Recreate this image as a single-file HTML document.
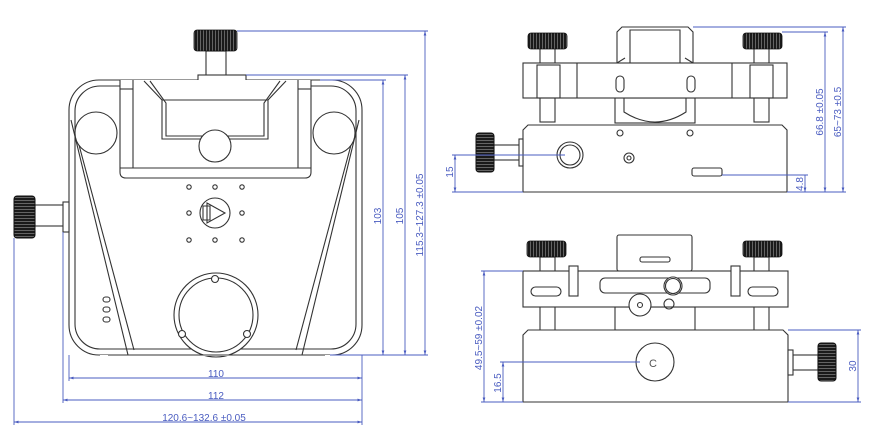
<!DOCTYPE html>
<html><head><meta charset="utf-8"><style>
html,body{margin:0;padding:0;background:#fff;}
svg{display:block;}
.l{fill:none;stroke:#333;stroke-width:1.1;}
.w{fill:#fff;stroke:#333;stroke-width:1.1;}
.d{stroke:#4a5cc0;stroke-width:0.9;fill:none;}
.t{fill:#4a5cc0;font-family:"Liberation Sans",sans-serif;font-size:10px;}
.k{fill:url(#knurl);stroke:#111;stroke-width:0.8;}
</style></head><body>
<svg width="870" height="445" viewBox="0 0 870 445" xmlns="http://www.w3.org/2000/svg">
<defs>
<pattern id="knurl" width="3" height="3" patternUnits="userSpaceOnUse"><rect width="3" height="3" fill="#1a1a1a"/><rect x="2" width="0.8" height="3" fill="#777"/></pattern>
<pattern id="knurlh" width="3" height="3" patternUnits="userSpaceOnUse"><rect width="3" height="3" fill="#1a1a1a"/><rect y="2" width="3" height="0.8" fill="#777"/></pattern>
<marker id="a" viewBox="0 0 10 10" refX="10" refY="5" markerWidth="6" markerHeight="5" orient="auto-start-reverse"><path d="M0,2 L10,5 L0,8z" fill="#4a5cc0"/></marker>
</defs>

<!-- ============ FRONT VIEW ============ -->
<rect x="206" y="51" width="20" height="25" class="w"/>
<rect x="194" y="30" width="43" height="21" rx="3" class="k"/>
<rect x="69" y="80" width="293" height="275" rx="30" class="w"/>
<rect x="75" y="86" width="281" height="263" rx="25" class="l"/>
<rect x="198" y="75" width="48" height="18" class="w"/>
<rect x="183" y="83" width="21" height="5" fill="#111"/>
<!-- inner frame -->
<path d="M120 80 V172 Q120 178 126 178 H305 Q311 178 311 172 V80" class="w"/>
<line x1="133" y1="80" x2="133" y2="168" class="l"/><line x1="298" y1="80" x2="298" y2="168" class="l"/>
<line x1="120" y1="168" x2="311" y2="168" class="l"/>
<line x1="120" y1="89" x2="133" y2="89" class="l"/><line x1="298" y1="89" x2="311" y2="89" class="l"/>
<path d="M144 81 L162 100 V139 H268 V100 L286 81" class="l"/>
<path d="M150 81 L166 103 V136 H264 V103 L280 81" class="l"/>
<line x1="162" y1="100" x2="268" y2="100" class="l"/>
<circle cx="215" cy="146" r="16" class="w"/>
<!-- side rollers -->
<circle cx="96" cy="133" r="21" class="w"/>
<circle cx="334" cy="133" r="21" class="w"/>
<!-- diagonals -->
<path d="M71 120 L128 355 M79 145 L134 350" class="l"/>
<path d="M359 120 L302 355 M351 145 L296 350" class="l"/>
<!-- holes -->
<g class="l"><circle cx="189" cy="187" r="2.2"/><circle cx="215" cy="187" r="2.2"/><circle cx="242" cy="187" r="2.2"/>
<circle cx="189" cy="213" r="2.2"/><circle cx="242" cy="213" r="2.2"/>
<circle cx="189" cy="240" r="2.2"/><circle cx="215" cy="240" r="2.2"/><circle cx="242" cy="240" r="2.2"/></g>
<circle cx="215" cy="213" r="15" class="w"/>
<path d="M207 203 L225 213 L207 223z M203 206 h7 v14 h-7z" class="l"/>
<!-- bottom circle -->
<circle cx="216" cy="315" r="42" class="w"/>
<circle cx="216" cy="315" r="37" class="l"/>
<circle cx="215" cy="279" r="3.5" class="w"/><circle cx="182" cy="334" r="3.5" class="w"/><circle cx="247" cy="334" r="3.5" class="w"/>
<rect x="100" y="355" width="240" height="1" fill="#fff"/>
<line x1="108" y1="355" x2="325" y2="355" class="l"/>
<g class="l"><rect x="103" y="297" width="7" height="5" rx="2.5"/><rect x="103" y="307" width="7" height="5" rx="2.5"/><rect x="103" y="317" width="7" height="5" rx="2.5"/></g>
<!-- left knob -->
<rect x="35" y="205" width="29" height="21" class="w"/>
<rect x="63" y="202" width="6" height="30" class="w"/>
<rect x="14" y="196" width="21" height="42" rx="3" fill="url(#knurlh)" stroke="#111"/>

<!-- front dims -->
<g class="d">
<line x1="237" y1="31" x2="428" y2="31"/><line x1="246" y1="75" x2="408" y2="75"/><line x1="320" y1="80" x2="386" y2="80"/>
<line x1="330" y1="355" x2="428" y2="355"/>
<line x1="383" y1="80" x2="383" y2="355" marker-start="url(#a)" marker-end="url(#a)"/>
<line x1="405" y1="75" x2="405" y2="355" marker-start="url(#a)" marker-end="url(#a)"/>
<line x1="425" y1="31" x2="425" y2="355" marker-start="url(#a)" marker-end="url(#a)"/>
<line x1="69" y1="355" x2="69" y2="381"/><line x1="63" y1="232" x2="63" y2="403"/><line x1="14" y1="238" x2="14" y2="425"/><line x1="362" y1="355" x2="362" y2="425"/>
<line x1="69" y1="378" x2="362" y2="378" marker-start="url(#a)" marker-end="url(#a)"/>
<line x1="63" y1="400" x2="362" y2="400" marker-start="url(#a)" marker-end="url(#a)"/>
<line x1="14" y1="422" x2="362" y2="422" marker-start="url(#a)" marker-end="url(#a)"/>
</g>
<text class="t" x="216" y="377" text-anchor="middle">110</text>
<text class="t" x="216" y="399" text-anchor="middle">112</text>
<text class="t" x="204" y="421" text-anchor="middle">120.6~132.6 ±0.05</text>
<text class="t" transform="translate(381,216) rotate(-90)" text-anchor="middle">103</text>
<text class="t" transform="translate(403,216) rotate(-90)" text-anchor="middle">105</text>
<text class="t" transform="translate(423,215) rotate(-90)" text-anchor="middle">115.3~127.3 ±0.05</text>

<!-- ============ TOP RIGHT VIEW ============ -->
<rect x="540" y="48" width="15" height="74" class="w"/><rect x="754" y="48" width="15" height="74" class="w"/>
<rect x="528" y="33" width="39" height="16" rx="3" class="k"/><rect x="743" y="33" width="39" height="16" rx="3" class="k"/>
<rect x="615" y="98" width="80" height="25" class="w"/>
<path d="M624 98 V112 Q655 132 686 112 V98" class="l"/>
<path d="M617 63 V32 L622 27 H688 L693 32 V63z" class="w"/>
<path d="M630 63 V30 H680 V63" class="l"/>
<rect x="523" y="63" width="264" height="35" class="w"/>
<path d="M523 63 H617 L625 58 M693 63 H785 M685 58 L693 63" class="l"/>
<line x1="577" y1="63" x2="577" y2="98" class="l"/><line x1="732" y1="63" x2="732" y2="98" class="l"/>
<rect x="537" y="65" width="23" height="33" class="l"/><rect x="750" y="65" width="23" height="33" class="l"/>
<rect x="616" y="76" width="8" height="16" rx="4" class="l"/><rect x="687" y="76" width="8" height="16" rx="4" class="l"/>
<path d="M523 130 L528 125 H782 L787 130 V192 H523z" class="w"/>
<circle cx="620" cy="133" r="3" class="l"/><circle cx="690" cy="133" r="3" class="l"/>
<circle cx="570" cy="155" r="13" class="w"/><circle cx="570" cy="155" r="10" class="l"/>
<circle cx="629" cy="158" r="5" class="l"/><circle cx="629" cy="158" r="2" class="l"/>
<rect x="692" y="168" width="30" height="8" rx="2" class="w"/>
<rect x="494" y="145" width="26" height="15" class="w"/><rect x="519" y="139" width="4" height="27" class="w"/>
<rect x="476" y="133" width="18" height="39" rx="3" fill="url(#knurlh)" stroke="#111"/>
<g class="d">
<line x1="693" y1="27" x2="846" y2="27"/><line x1="782" y1="32" x2="828" y2="32"/><line x1="787" y1="192" x2="846" y2="192"/>
<line x1="722" y1="175" x2="808" y2="175"/>
<line x1="825" y1="32" x2="825" y2="192" marker-start="url(#a)" marker-end="url(#a)"/>
<line x1="843" y1="27" x2="843" y2="192" marker-start="url(#a)" marker-end="url(#a)"/>
<line x1="805" y1="175" x2="805" y2="192" marker-end="url(#a)"/>
<line x1="452" y1="155" x2="565" y2="155"/><line x1="452" y1="192" x2="523" y2="192"/>
<line x1="455" y1="155" x2="455" y2="192" marker-start="url(#a)" marker-end="url(#a)"/>
</g>
<text class="t" transform="translate(823,112) rotate(-90)" text-anchor="middle">66.8 ±0.05</text>
<text class="t" transform="translate(841,112) rotate(-90)" text-anchor="middle">65~73 ±0.5</text>
<text class="t" transform="translate(803,184) rotate(-90)" text-anchor="middle">4.8</text>
<text class="t" transform="translate(453,172) rotate(-90)" text-anchor="middle">15</text>

<!-- ============ BOTTOM RIGHT VIEW ============ -->
<rect x="540" y="257" width="15" height="75" class="w"/><rect x="754" y="257" width="15" height="75" class="w"/>
<rect x="527" y="241" width="39" height="16" rx="3" class="k"/><rect x="743" y="241" width="39" height="16" rx="3" class="k"/>
<rect x="617" y="235" width="75" height="36" rx="2" class="w"/>
<rect x="640" y="257" width="30" height="5" rx="2" class="w"/>
<rect x="615" y="307" width="80" height="23" class="w"/>
<rect x="523" y="271" width="265" height="36" class="w"/>
<rect x="569" y="266" width="9" height="30" class="w"/><rect x="731" y="266" width="9" height="30" class="w"/>
<rect x="531" y="287" width="30" height="9" rx="4.5" class="l"/><rect x="748" y="287" width="30" height="9" rx="4.5" class="l"/>
<rect x="600" y="278" width="110" height="15" rx="5" class="l"/>
<circle cx="673" cy="286" r="9" class="w"/><circle cx="673" cy="286" r="7.5" class="l"/>
<circle cx="640" cy="305" r="11" class="w"/><circle cx="640" cy="305" r="2.5" class="l"/>
<circle cx="669" cy="304" r="5" class="l"/>
<path d="M523 335 L528 330 H783 L788 335 V402 H523z" class="w"/>
<circle cx="655" cy="362" r="19" class="w"/>
<text x="649" y="367" font-family="Liberation Sans,sans-serif" font-size="11" fill="#555">C</text>
<rect x="793" y="355" width="25" height="15" class="w"/><rect x="788" y="350" width="5" height="25" class="w"/>
<rect x="818" y="343" width="18" height="38" rx="3" fill="url(#knurlh)" stroke="#111"/>
<g class="d">
<line x1="481" y1="271" x2="523" y2="271"/><line x1="481" y1="402" x2="523" y2="402"/>
<line x1="500" y1="362" x2="640" y2="362"/>
<line x1="788" y1="330" x2="861" y2="330"/><line x1="788" y1="402" x2="861" y2="402"/>
<line x1="484" y1="271" x2="484" y2="402" marker-start="url(#a)" marker-end="url(#a)"/>
<line x1="503" y1="362" x2="503" y2="402" marker-start="url(#a)" marker-end="url(#a)"/>
<line x1="858" y1="330" x2="858" y2="402" marker-start="url(#a)" marker-end="url(#a)"/>
</g>
<text class="t" transform="translate(482,338) rotate(-90)" text-anchor="middle">49.5~59 ±0.02</text>
<text class="t" transform="translate(501,383) rotate(-90)" text-anchor="middle">16.5</text>
<text class="t" transform="translate(856,366) rotate(-90)" text-anchor="middle">30</text>
</svg>
</body></html>
